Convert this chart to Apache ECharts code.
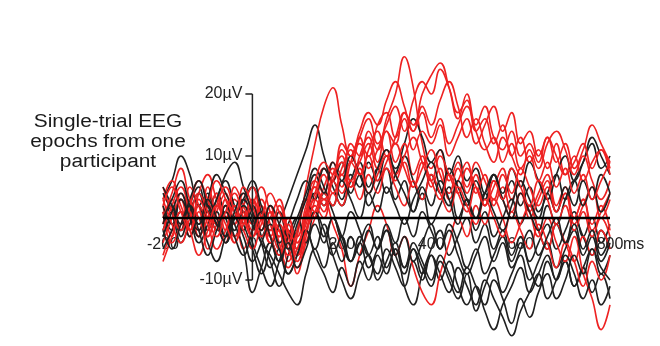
<!DOCTYPE html>
<html>
<head>
<meta charset="utf-8">
<script src="https://cdn.jsdelivr.net/npm/echarts@6/dist/echarts.min.js"></script>
<style>html,body{margin:0;padding:0;background:#fff}#c{width:660px;height:346px}</style>
</head>
<body>
<div id="c"></div>
<script>
// time points (ms)
var times = [-200,-180,-160,-140,-120,-100,-80,-60,-40,-20,0,20,40,60,80,100,120,140,160,180,200,220,240,260,280,300,320,340,360,380,400,420,440,460,480,500,520,540,560,580,600,620,640,660,680,700,720,740,760,780,800];
var xTicks = [-200, 0, 200, 400, 600, 800];
var yTicks = [-10, 10, 20];

// red trials (µV)
var red1 = [2,-3,4,1,-2,5,0,-4,3,1,-2,3,-1,-5,0,-3,2,6,4,9,7,12,10,14,11,16,20,26,21,12,8,11,6,9,4,7,2,5,8,3,6,1,4,7,2,5,0,3,-2,1,4];
var red2 = [-1,3,-2,5,2,-3,1,4,-1,2,5,0,-3,1,-4,-6,0,4,8,6,11,9,13,16,12,15,18,14,19,22,20,24,21,17,19,14,16,12,15,10,13,9,11,8,12,7,10,6,9,11,8];
var red3 = [3,6,2,-1,4,7,3,0,5,2,-1,2,-4,-2,-7,-3,5,12,18,21,15,10,13,8,11,14,9,12,7,10,5,8,3,6,9,4,7,2,5,1,4,0,3,6,1,4,-1,2,5,0,3];
var red4 = [-4,0,3,-2,1,-5,-1,2,-3,0,3,-2,1,-4,-8,-5,-1,3,1,6,4,9,12,10,15,17,13,16,11,14,12,15,10,13,16,12,15,18,14,17,12,14,10,13,9,12,8,11,15,12,9];
var red5 = [1,-4,-1,3,-3,0,4,-2,2,-5,-2,1,-3,-6,-2,-9,-4,0,3,-1,-5,-11,-6,-2,2,-1,-6,-3,-8,-12,-14,-9,-4,0,-3,2,-1,3,0,-4,-1,2,-2,-5,-1,-4,-7,-3,-6,-2,-5];
var red6 = [-2,2,5,1,-3,2,6,3,-1,4,1,-3,0,3,-2,-5,1,5,3,7,10,6,9,12,8,11,7,10,13,9,6,10,7,4,8,5,2,6,3,0,4,1,-3,0,-4,-7,-3,-9,-13,-18,-14];
var red7 = [5,1,-2,2,6,3,-1,1,-4,-1,2,5,1,-2,-6,-2,3,1,5,8,5,9,7,11,14,10,13,17,14,18,15,19,22,18,13,16,12,9,13,10,7,11,8,12,14,11,7,10,6,3,6];
var red8 = [-6,-2,1,-3,2,-1,-5,-2,2,-1,3,0,-4,-1,-5,-8,-3,2,0,4,2,6,3,7,4,8,5,2,6,3,7,4,1,5,2,-1,3,0,-3,1,-2,-5,-1,-4,-8,-4,-7,-11,-7,-10,-6];
var red9 = [0,4,8,3,0,-3,2,5,1,-2,-5,-1,2,-3,-1,-6,-2,1,4,2,7,5,10,13,9,14,12,17,15,20,23,25,21,16,20,15,18,13,11,14,10,12,9,13,10,7,9,12,8,11,7];
var red10 = [3,-1,-4,0,4,1,-2,3,0,5,2,-2,1,-3,0,-4,0,5,2,6,9,5,8,4,7,10,6,9,5,8,11,7,4,8,5,9,6,3,7,4,8,5,2,5,1,4,0,3,-1,2,-2];
var red11 = [-7,-3,1,-2,-6,-2,2,-1,-4,0,-3,1,-2,2,-3,-7,-2,3,7,4,8,11,7,10,6,9,12,8,5,9,6,3,7,4,1,5,2,6,3,8,5,2,6,3,-1,2,-2,1,-3,0,-3];
var red12 = [2,5,1,-2,3,0,-3,1,4,0,-3,0,4,1,-2,-4,1,6,9,7,12,10,14,17,15,19,22,18,14,17,13,16,12,15,18,14,11,13,9,12,8,10,6,9,5,8,4,7,3,6,9];

// black trials (µV)
var black1 = [3,6,10,7,2,4,-1,2,-2,1,-4,-8,-11,-7,-3,-6,-2,1,-3,0,-4,-7,-3,-6,-9,-5,-8,-11,-7,-10,-6,-9,-12,-8,-11,-14,-10,-13,-16,-19,-15,-12,-9,-13,-10,-7,-11,-8,-5,-9,-6];
var black2 = [-2,1,-3,2,5,1,4,0,-3,2,5,1,-3,-6,-2,-5,0,4,2,6,3,7,5,9,6,10,8,12,16,13,9,11,7,10,6,8,4,7,3,6,2,5,1,4,7,3,6,9,12,8,10];
var black3 = [1,-2,3,0,-4,-1,3,6,2,-1,-5,-9,-5,-1,3,7,11,15,10,6,9,4,7,2,5,8,3,6,1,4,-1,2,5,0,3,-2,1,-3,0,3,-1,2,-2,-5,-1,-4,0,-3,-6,-2,-5];
var black4 = [-3,0,-4,-1,2,-2,1,-3,0,3,0,-4,-8,-5,-9,-6,-2,-5,-1,-6,-10,-13,-9,-6,-10,-7,-4,-8,-5,-9,-6,-10,-7,-11,-14,-11,-15,-18,-14,-11,-8,-12,-9,-6,-10,-7,-11,-8,-12,-9,-13];
var black5 = [4,1,-2,2,-1,3,7,4,1,-2,2,-3,-7,-11,-6,-2,3,0,4,1,-3,1,-2,-6,-3,-8,-5,-11,-14,-9,-5,-2,-6,-3,0,-4,-1,-5,-2,-6,-3,-7,-4,-1,-5,-2,1,-3,0,-4,-1];
var black6 = [-1,2,-2,1,4,0,3,7,9,5,1,-3,0,-4,-1,3,6,3,8,5,2,6,9,5,8,4,7,10,6,3,7,4,8,5,2,6,3,7,4,8,5,9,6,3,7,10,6,9,13,10,7];
var black7 = [2,-1,3,0,-3,1,-2,2,-1,-5,-12,-8,-4,-7,-3,0,-4,1,-2,-6,-3,-7,-4,-1,-5,-2,-6,-9,-5,-8,-11,-7,-10,-13,-9,-15,-11,-8,-12,-9,-6,-10,-7,-4,-8,-5,-2,-6,-3,-7,-4];
var black8 = [-3,1,4,0,-2,2,-1,-4,0,2,-1,-4,-6,-9,-12,-14,-9,-5,-8,-4,-7,-3,-6,-2,-5,-1,-4,0,-3,1,-2,-5,-1,-4,-8,-5,-9,-6,-3,-7,-4,-8,-11,-7,-10,-6,-9,-13,-10,-14,-11];
var black9 = [5,2,-1,3,6,2,-1,-4,0,3,6,2,-2,1,-3,0,4,8,5,2,6,3,0,4,1,5,2,-1,3,6,9,5,2,6,3,0,4,1,-2,2,6,3,0,4,1,5,2,6,3,7,4];
var black10 = [-5,-2,1,-3,0,-4,-7,-3,0,-3,-7,-4,-1,-5,-9,-6,-2,-6,-9,-12,-8,-11,-7,-10,-6,-9,-5,-8,-4,-7,-10,-6,-9,-12,-8,-11,-14,-10,-13,-17,-13,-16,-12,-9,-13,-10,-6,-9,-5,-8,-10];
var black11 = [0,3,6,2,-1,3,0,-3,1,4,1,-2,2,-1,-5,-1,3,7,4,9,6,10,7,4,8,11,7,4,1,5,2,6,3,-1,3,0,4,7,3,0,4,1,-2,2,-1,3,6,2,5,1,4];
var black12 = [-2,-5,-1,2,-2,-6,-2,1,-3,-6,-2,1,-3,-7,-4,-8,-5,-1,-4,0,-3,-7,-4,-8,-5,-2,-6,-3,-7,-4,-1,-5,-2,-6,-9,-6,-3,-7,-4,-8,-5,-2,-6,-3,0,-4,-1,-5,-2,-6,-3];

// axis segments (data coords)
var baseline = [[-200, 0], [800, 0]];
var ySegment = [[0, -10], [0, 20]];

var redTrials = [red1, red2, red3, red4, red5, red6, red7, red8, red9, red10, red11, red12];
var blackTrials = [black1, black2, black3, black4, black5, black6, black7, black8, black9, black10, black11, black12];

var X_MIN = -200, X_MAX = 800, Y_MIN = -20, Y_MAX = 30;
var GRID = { left: 163, right: 50, top: 32, bottom: 4 };
var W = 660, H = 346;
var plotW = W - GRID.left - GRID.right, plotH = H - GRID.top - GRID.bottom;
// offsets that move the axes onto the zero lines
var yAxisOffset = -plotW * (0 - X_MIN) / (X_MAX - X_MIN);
var xAxisOffset = -plotH * (0 - Y_MIN) / (Y_MAX - Y_MIN);

var RED = '#ee2222', BLACK = '#202020';
function trace(vals, color, name) {
  return {
    type: 'line', name: name, smooth: 0.45, symbol: 'none', silent: true,
    lineStyle: { color: color, width: 1.6 },
    data: times.map(function (t, i) { return [t, vals[i]]; })
  };
}
var series = [];
for (var k = 0; k < 12; k++) {
  series.push(trace(blackTrials[k], BLACK, 'b' + k));
  series.push(trace(redTrials[k], RED, 'r' + k));
}
series.push({ type: 'line', symbol: 'none', silent: true, data: baseline, lineStyle: { color: '#000', width: 2.4 }, z: 5 });
series.push({ type: 'line', symbol: 'none', silent: true, data: ySegment, lineStyle: { color: '#222', width: 1.5 }, z: 5 });

var chart = echarts.init(document.getElementById('c'), null, { renderer: 'canvas' });
chart.setOption({
  animation: false,
  backgroundColor: '#fff',
  grid: { left: GRID.left, right: GRID.right, top: GRID.top, bottom: GRID.bottom, containLabel: false, outerBoundsMode: 'none' },
  xAxis: {
    type: 'value', min: X_MIN, max: X_MAX, interval: 200,
    position: 'bottom', offset: xAxisOffset,
    axisLine: { show: false, onZero: false },
    axisTick: { show: false },
    splitLine: { show: false },
    axisLabel: {
      margin: 19, color: '#222', fontSize: 16, fontFamily: 'Liberation Sans',
      customValues: xTicks,
      formatter: function (v) { return String(v); }
    }
  },
  yAxis: {
    type: 'value', min: Y_MIN, max: Y_MAX, interval: 10,
    position: 'left', offset: yAxisOffset,
    axisLine: { show: false, onZero: false },
    axisTick: { show: true, length: 7, customValues: yTicks, lineStyle: { color: '#222', width: 1.5 } },
    splitLine: { show: false },
    axisLabel: {
      margin: 10, color: '#222', fontSize: 16, fontFamily: 'Liberation Sans',
      customValues: yTicks,
      formatter: function (v) { return v + 'µV'; }
    }
  },
  series: series
});

var p = chart.convertToPixel({ gridIndex: 0 }, [800, 0]);
chart.setOption({
  graphic: [
    {
      type: 'text', x: 108, y: 112, scaleX: 1.16, silent: true,
      style: {
        text: 'Single-trial EEG\nepochs from one\nparticipant',
        align: 'center', verticalAlign: 'top',
        fill: '#1a1a1a', fontSize: 18, lineHeight: 20, fontFamily: 'Liberation Sans'
      }
    },
    {
      type: 'text', x: p[0] + 13, y: p[1] + 19, silent: true,
      style: { text: 'ms', align: 'left', verticalAlign: 'top', fill: '#222', fontSize: 16, fontFamily: 'Liberation Sans' }
    }
  ]
});
</script>
</body>
</html>
